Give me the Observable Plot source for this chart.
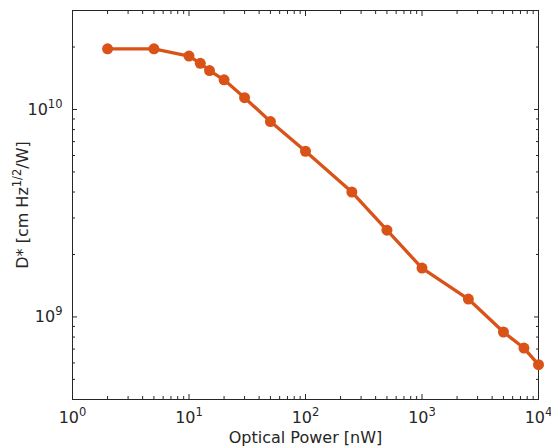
<!DOCTYPE html>
<html><head><meta charset="utf-8">
<script src="https://cdn.jsdelivr.net/npm/d3@7"></script>
<script src="https://cdn.jsdelivr.net/npm/@observablehq/plot@0.6"></script>
<style>html,body{margin:0;padding:0;background:#fff;} svg{display:block} #chart svg text{font-family:'DejaVu Sans',sans-serif;font-size:16px;}</style>
</head><body><div id="chart"></div>
<script>
const power = [2, 5, 10, 12.5, 15, 20, 30, 50, 100, 250, 500, 1000, 2500, 5000, 7500, 10000];
const dstar = [1.96e10, 1.96e10, 1.81e10, 1.67e10, 1.54e10, 1.39e10, 1.14e10, 8.75e9, 6.29e9, 4.0e9, 2.62e9, 1.72e9, 1.22e9, 8.46e8, 7.08e8, 5.89e8];
const xMajor = [1, 10, 100, 1000, 10000];
const xMinor = [2,3,4,5,6,7,8,9, 20,30,40,50,60,70,80,90, 200,300,400,500,600,700,800,900, 2000,3000,4000,5000,6000,7000,8000,9000];
const yMajor = [1e9, 1e10];
const yMinor = [5e8,6e8,7e8,8e8,9e8, 2e9,3e9,4e9,5e9,6e9,7e9,8e9,9e9, 2e10];
const xLabel = "Optical Power [nW]";
const yLabel = "D* [cm Hz^{1/2}/W]";

const data = power.map((p, i) => ({p, d: dstar[i]}));
const fmt = v => "10^" + Math.round(Math.log10(v));
const none = () => "";
const ink = "#262626";
const orange = "#D95319";

const chart = Plot.plot({
  width: 551, height: 448,
  marginLeft: 72, marginRight: 13, marginTop: 10, marginBottom: 49,
  style: {fontFamily: "'DejaVu Sans', sans-serif", fontSize: "16px", color: ink, background: "#fff"},
  x: {type: "log", domain: [1, 1e4]},
  y: {type: "log", domain: [4e8, 3e10]},
  marks: [
    Plot.axisX(xMajor, {anchor: "bottom", tickSize: -5, tickPadding: 17, tickFormat: fmt, label: xLabel, labelAnchor: "center", labelArrow: "none", labelOffset: 43}),
    Plot.axisX(xMinor, {anchor: "bottom", tickSize: -3, tickFormat: none, label: null}),
    Plot.axisX(xMajor, {anchor: "top", tickSize: -5, tickFormat: none, label: null}),
    Plot.axisX(xMinor, {anchor: "top", tickSize: -3, tickFormat: none, label: null}),
    Plot.axisY(yMajor, {anchor: "left", tickSize: -5, tickPadding: 15, tickFormat: fmt, label: yLabel, labelAnchor: "center", labelArrow: "none", labelOffset: 56}),
    Plot.axisY(yMinor, {anchor: "left", tickSize: -3, tickFormat: none, label: null}),
    Plot.axisY(yMajor, {anchor: "right", tickSize: -5, tickFormat: none, label: null}),
    Plot.axisY(yMinor, {anchor: "right", tickSize: -3, tickFormat: none, label: null}),
    Plot.frame({stroke: ink, strokeWidth: 1}),
    Plot.line(data, {x: "p", y: "d", stroke: orange, strokeWidth: 3.3}),
    Plot.dot(data, {x: "p", y: "d", r: 5.5, fill: orange, stroke: "none"})
  ]
});

const ns = "http://www.w3.org/2000/svg";
chart.querySelectorAll("text").forEach(el => {
  const s = el.textContent;
  const m = s.match(/^(.*?)\^(?:\{([^}]*)\}|([0-9-]+))(.*)$/);
  if (!m) return;
  const pre = m[1], sup = m[2] != null ? m[2] : m[3], post = m[4];
  el.textContent = "";
  const t1 = document.createElementNS(ns, "tspan"); t1.textContent = pre; el.appendChild(t1);
  const t2 = document.createElementNS(ns, "tspan"); t2.textContent = sup;
  t2.setAttribute("dy", "-7"); t2.style.fontSize = "11.5px"; el.appendChild(t2);
  if (post) {
    const t3 = document.createElementNS(ns, "tspan"); t3.textContent = post;
    t3.setAttribute("dy", "7"); el.appendChild(t3);
  }
});
document.getElementById("chart").appendChild(chart);
</script>
</body></html>
